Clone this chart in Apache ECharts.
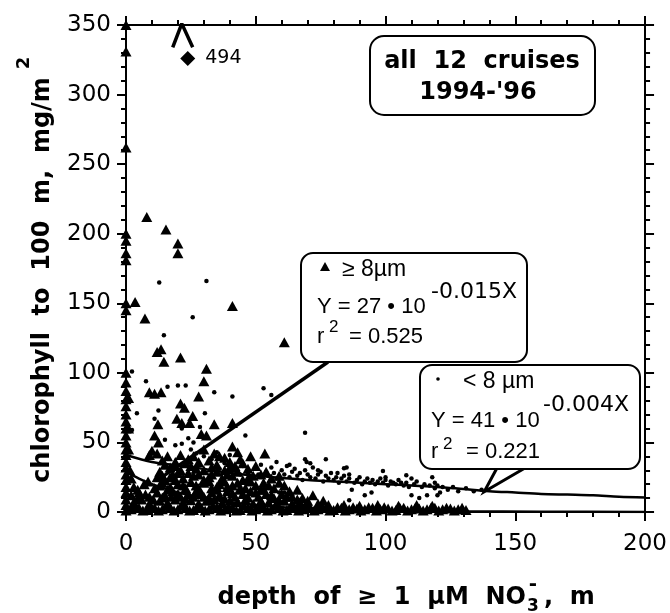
<!DOCTYPE html>
<html>
<head>
<meta charset="utf-8">
<script src="https://cdn.jsdelivr.net/npm/echarts@6.0.0/dist/echarts.min.js"></script>
<style>
  html, body { margin: 0; padding: 0; background: #fff; }
  #main { width: 670px; height: 613px; }
</style>
</head>
<body>
<div id="main"></div>
<script>
// chlorophyll to 100 m vs depth of the nitracline, all 12 cruises

// >= 8 um fraction (triangles), sparse points above the band
var bigUpper = [
  [0,350],[0,331],[0,262],[0,200],[0,195],[0,186],[0,181],[0,150],[0,145],
  [3.5,151],[7.3,139],[8,212],[15.4,203],[20,193],[20,186],[41,148],[61,122],
  [12,115],[13.5,117],[14.6,108],[21,111],[31,103],[30,94],
  [9,86],[11,85],[13.5,86],[28,83],[21,78],[22.5,75],[25.7,69],[19.6,67],[21.5,64],[24.5,64],
  [12.3,63],[34,63],[41,64],[29,56],[31,55],[41,47],[53.5,42]
];
// >= 8 um, points sitting on the y axis
var bigAxis = [
  [0,100],[0,93],[0,87],[0,81],[0,76],[0,70],[0,65],[0,60],[0,55],[0,50],[0,45],
  [0,41],[0,36],[0,32],[0,27],[0,23],[0,18],[0,14],[0,9],[0,5],[0,1],
  [1,45],[1.5,30],[1,60],[1,82]
];
// >= 8 um, the dense band near the bottom
var bigBand = [
  [2,2],[5,3],[8,1.5],[11,3],[14,2],[17,3.5],[20,2],[23,3],[26,1.5],[29,3],[32,2],[35,3.5],
  [38,2],[41,3],[44,1.5],[47,3],[50,2],[53,3.5],[56,2],[59,3],[62,1.5],[65,3],[68,2],[71,3],
  [74,2],[77,3],[80,1.5],[83,3],[86,2],[89,2.5],[92,2],[95,3],[98,2],[101,2.5],[104,1.5],
  [107,3],[110,2],[113,2.5],[116,2],[119,3],[122,2],[125,2.5],[128,2],[131,1.5],
  [3,7],[6,9],[9,6],[13,8],[16,6.5],[19,9],[22,7],[25,8.5],[28,6],[31,8],[34,9],[37,6.5],
  [40,8],[43,7],[46,9],[49,6],[52,8],[55,7],[58,6],[61,8],[64,6],[67,7],[70,5.5],[74,6],
  [78,5],[84,5],[90,4.5],[97,5],[105,4.5],[112,5],[118,4.5],
  [2,12],[5,14],[9,11],[12,14],[15,12],[18,15],[21,11],[24,13],[27,15],[30,11],[33,14],
  [36,12],[39,15],[42,11],[45,13],[48,15],[51,11],[54,13],[57,10],[60,13],[64,11],[68,10],[72,12],
  [3,18],[7,20],[11,17],[14,21],[17,18],[20,20],[23,17],[27,19],[30,21],[33,17],[36,20],
  [39,18],[43,21],[46,17],[50,19],[53,21],[57,17],[61,19],[66,16],
  [2,24],[12,25],[15,23],[18,27],[22,24],[26,26],[30,23],[33,27],[37,24],[41,26],[45,23],[49,26],[56,24],
  [13,29],[17,32],[21,30],[25,33],[30,30],[33,32],[38,30],[42,33],[47,31],[54,29],
  [14,37],[19,36],[24,38],[32,37],[36,40],[40,36],[44,38],[48,40],
  [9,41],[12,42],[10,44],[30,45],[34,42],[11,55],[12.5,50]
];
// >= 8 um, further points packed between the ones above
var bigFill = [
  [3.5,4],[6.5,1],[9.5,4],[12.5,1],[15.5,4.5],[18.5,1],[21.5,4.5],[24.5,1],[27.5,4],[30.5,1],
  [33.5,4.5],[36.5,1],[39.5,4],[42.5,1],[45.5,4.5],[48.5,1],[51.5,4],[54.5,1],[57.5,4.5],
  [60.5,1],[63.5,4],[66.5,1],[69.5,4],[72.5,1],[75.5,4],[78.5,1],[81.5,3.5],[84.5,1],
  [87.5,3.5],[90.5,1],[93.5,3.5],[96.5,1],[99.5,3.5],[102.5,1],[105.5,3],[108.5,1],
  [111.5,3],[114.5,1],[117.5,3],[120.5,1],[123.5,3],[126.5,1],[129.5,3],
  [4.5,10],[7.5,12.5],[10.5,9],[14,10.5],[17.5,11],[20,13],[23,9.5],[26,11],[29,13],[32,10],
  [35,16],[38,9.5],[41,13.5],[44,16],[47,10.5],[50,14],[53,16],[56,12],[59,8.5],[62,11],
  [66,9],[70,8],[76,8],
  [4.5,16],[8.5,22],[13,19],[16,16],[19,23],[22,19],[25,21.5],[28,17],[32,22],[35,18],
  [38,22],[41,19],[44,17],[48,22],[52,16],[55,19],[59,21],[63,15],
  [14,26],[17,25],[20,28],[24,28],[28,27],[32,25],[35,29],[39,27],[43,29],[47,24],[52,27],[59,26],
  [15,34],[19,33],[23,35],[27,31],[28,36],[35,34],[40,32],[45,35],[50,33],
  [16,40],[21,41],[26,40],[38,39],[43,43]
];

// < 8 um fraction (dots)
var smallUpper = [
  [12.8,165],[31,166],[25.7,140],[14.6,127],[2.3,101],[7.7,94],[16,90],[20,91],[23,91],
  [34,86],[41,83],[53,89],[56,84],[4.2,71],[12.5,73],[11,67],[30.4,71],[2.3,59],[21.5,60],
  [28.5,61],[15,52],[19,48],[21.5,49],[24,53],[26,50],[46,55],[69,57]
];
var smallBand = [
  [25,45],[27,42],[30,40],[33,38],[35,43],[38,35],[40,41],[36,31],[42,30],[44,27],[45,33],
  [47,28],[48,25],[50,31],[51,27],[52,34],[54,29],[55,26],[56,32],[57,28],[58,36],[58,24],
  [60,30],[61,27],[62,33],[63,34],[63,25],[64,29],[65,31],[66,26],[67,28],[68,23],[69,38],
  [69.6,36],[69,30],[70,27],[71,35],[71,25],[72,32],[73,24],[74,30],[74,27],[75,29],[76,22],
  [77,38],[77,26],[78,24],[79,28],[80,23],[81,25],[81.5,28],[82,21],[83,24],[84,31.5],
  [84,26],[85,32],[85,22],[86,27],[86,24],[87,16],[88,21],[89,23],[90,25],[91,20],[92,12],
  [92,22],[93,24],[94,21],[94.6,14],[95,23],[96,20],[97,22],[98,24],[99,29.5],[99,21],
  [100,25],[100,23],[101,19],[102,22],[103,21],[104,20],[105,23],[106,21],[107,19],
  [108,26.5],[108,21],[109,18],[110,24],[110,12],[111,20],[112,22],[113,10],[114,18],
  [115,20],[116,12],[117,19],[118,25],[119,21],[119,17],[120,12],[120,19],[121,14],
  [122,18],[124,16],[126,18],[128,15],[131,17],[134,15],[137,16],[59,14],[61,14],[86,8.5]
];

// regression curves
var smallFitX = [0, 10, 20, 30, 40, 50, 60, 70, 80, 90, 100, 110, 120, 130, 140, 150, 160, 170, 180, 190, 200];
var smallFitY = [41, 36, 33.5, 31, 28, 26, 24.5, 23, 22, 21, 20, 19, 18, 16.5, 15, 14, 13, 12.5, 12, 11, 10.5];
var bigFitX = [0, 5, 10, 15, 20, 30, 40, 50, 60, 80, 100, 130, 160, 200];
var bigFitY = [29, 24, 20, 17, 14, 10, 7, 5, 3.5, 2, 1, 0.5, 0.2, 0];

// off-scale value (494) shown under an arrow at the top
var offscalePoint = [[23.8, 326]];
var offscaleArrow = [[18, 334], [21.5, 351], [25.7, 334]];

function pairs(xs, ys) {
  return xs.map(function (x, i) { return [x, ys[i]]; });
}

var chartDom = document.getElementById('main');
var myChart = echarts.init(chartDom);

var axisLine = { show: true, onZero: false, lineStyle: { color: '#000', width: 2 } };
var tick = { show: true, length: 9, lineStyle: { color: '#000', width: 2 } };
var minor = { show: true, splitNumber: 5, length: 5, lineStyle: { color: '#000', width: 2 } };
var tickFont = { color: '#000', fontSize: 23, fontFamily: 'DejaVu Sans' };

var option = {
  animation: false,
  backgroundColor: '#fff',
  grid: { left: 126, right: 23, top: 25, bottom: 101 },
  xAxis: [
    {
      type: 'value', min: 0, max: 200, interval: 50, position: 'bottom',
      axisLine: axisLine, axisTick: tick, minorTick: minor,
      axisLabel: Object.assign({ margin: 21 }, tickFont),
      splitLine: { show: false }
    },
    {
      type: 'value', min: 0, max: 200, interval: 50, position: 'top',
      axisLine: axisLine, axisTick: tick, minorTick: minor,
      axisLabel: { show: false }, splitLine: { show: false }
    }
  ],
  yAxis: [
    {
      type: 'value', min: 0, max: 350, interval: 50, position: 'left',
      axisLine: axisLine, axisTick: tick, minorTick: minor,
      axisLabel: Object.assign({ margin: 15 }, tickFont),
      splitLine: { show: false }
    },
    {
      type: 'value', min: 0, max: 350, interval: 50, position: 'right',
      axisLine: axisLine, axisTick: tick, minorTick: minor,
      axisLabel: { show: false }, splitLine: { show: false }
    }
  ],
  series: [
    {
      name: '< 8 um', type: 'scatter', clip: false,
      symbol: 'circle', symbolSize: 4.5,
      itemStyle: { color: '#000', opacity: 1 },
      data: smallUpper.concat(smallBand)
    },
    {
      name: '>= 8 um', type: 'scatter', clip: false,
      symbol: 'triangle', symbolSize: [11, 10],
      itemStyle: { color: '#000', opacity: 1 },
      data: bigUpper.concat(bigAxis, bigBand, bigFill)
    },
    {
      name: '< 8 um fit', type: 'line', smooth: 0.3, symbol: 'none',
      lineStyle: { color: '#000', width: 2.5 },
      data: pairs(smallFitX, smallFitY)
    },
    {
      name: '>= 8 um fit', type: 'line', smooth: 0.3, symbol: 'none',
      lineStyle: { color: '#000', width: 2.5 },
      data: pairs(bigFitX, bigFitY)
    },
    {
      name: 'off scale', type: 'scatter', clip: false,
      symbol: 'diamond', symbolSize: 15,
      itemStyle: { color: '#000', opacity: 1 },
      label: {
        show: true, position: 'right', distance: 10, formatter: '494',
        color: '#000', fontSize: 19, fontFamily: 'DejaVu Sans'
      },
      data: offscalePoint
    },
    {
      name: 'arrow', type: 'line', clip: false, symbol: 'none',
      lineStyle: { color: '#000', width: 3.5 },
      data: offscaleArrow
    }
  ]
};

option && myChart.setOption(option);

// annotations: boxes, pointers, axis titles
var bigTip = myChart.convertToPixel({ gridIndex: 0 }, [13, 24]);
var smallTip = myChart.convertToPixel({ gridIndex: 0 }, [138, 14.5]);

function txt(x, y, text, size, opts) {
  opts = opts || {};
  return {
    type: 'text', x: x, y: y, z: 110, rotation: opts.rotation || 0,
    style: {
      text: text, fill: '#000',
      fontSize: size,
      fontWeight: opts.bold ? 'bold' : 'normal',
      fontFamily: opts.family || 'Liberation Sans',
      align: opts.align || 'left',
      verticalAlign: 'middle'
    }
  };
}

var boxStyle = { fill: '#fff', stroke: '#000', lineWidth: 2 };

myChart.setOption({
  graphic: [
    // all 12 cruises
    { type: 'rect', z: 100, shape: { x: 370, y: 36, width: 225, height: 79, r: 14 }, style: boxStyle },
    txt(482, 62, 'all  12  cruises', 24, { bold: true, align: 'center', family: 'DejaVu Sans' }),
    txt(478, 93, "1994-'96", 24, { bold: true, align: 'center', family: 'DejaVu Sans' }),

    // >= 8 um box and pointer
    {
      type: 'line', z: 99,
      shape: { x1: 328, y1: 362, x2: bigTip[0], y2: bigTip[1] },
      style: { stroke: '#000', lineWidth: 3.5 }
    },
    { type: 'rect', z: 100, shape: { x: 301, y: 253, width: 226, height: 109, r: 12 }, style: boxStyle },
    {
      type: 'polygon', z: 110,
      shape: { points: [[325, 262], [330, 271], [320, 271]] },
      style: { fill: '#000' }
    },
    txt(342, 270, '\u2265 8\u00b5m', 23),
    txt(317, 307, 'Y = 27 \u2022 10', 22),
    txt(431, 292, '-0.015X', 22, { family: 'DejaVu Sans' }),
    txt(317, 337, 'r', 22),
    txt(329, 327, '2', 17),
    txt(349, 337, '= 0.525', 22),

    // < 8 um box and pointer
    {
      type: 'polyline', z: 99,
      shape: { points: [[497, 468], [smallTip[0], smallTip[1]], [525, 468]] },
      style: { stroke: '#000', lineWidth: 3, fill: null }
    },
    { type: 'rect', z: 100, shape: { x: 420, y: 365, width: 220, height: 104, r: 12 }, style: boxStyle },
    { type: 'circle', z: 110, shape: { cx: 438, cy: 379, r: 1.8 }, style: { fill: '#000' } },
    txt(463, 382, '< 8 \u00b5m', 23),
    txt(431, 421, 'Y = 41 \u2022 10', 22),
    txt(543, 405, '-0.004X', 22, { family: 'DejaVu Sans' }),
    txt(431, 452, 'r', 22),
    txt(443, 444, '2', 17),
    txt(466, 452, '= 0.221', 22),

    // y axis title
    txt(43, 280, 'chlorophyll  to  100  m,  mg/m', 24, { bold: true, align: 'center', family: 'DejaVu Sans', rotation: Math.PI / 2 }),
    txt(24, 63, '2', 18, { bold: true, align: 'center', family: 'DejaVu Sans', rotation: Math.PI / 2 }),

    // x axis title
    txt(526, 598, 'depth  of  \u2265  1  \u00b5M  NO', 24, { bold: true, align: 'right', family: 'DejaVu Sans' }),
    txt(533, 607, '3', 17, { bold: true, align: 'center', family: 'DejaVu Sans' }),
    txt(533, 585, '-', 20, { bold: true, align: 'center', family: 'DejaVu Sans' }),
    txt(544, 598, ',  m', 24, { bold: true, family: 'DejaVu Sans' })
  ]
});
</script>
</body>
</html>
